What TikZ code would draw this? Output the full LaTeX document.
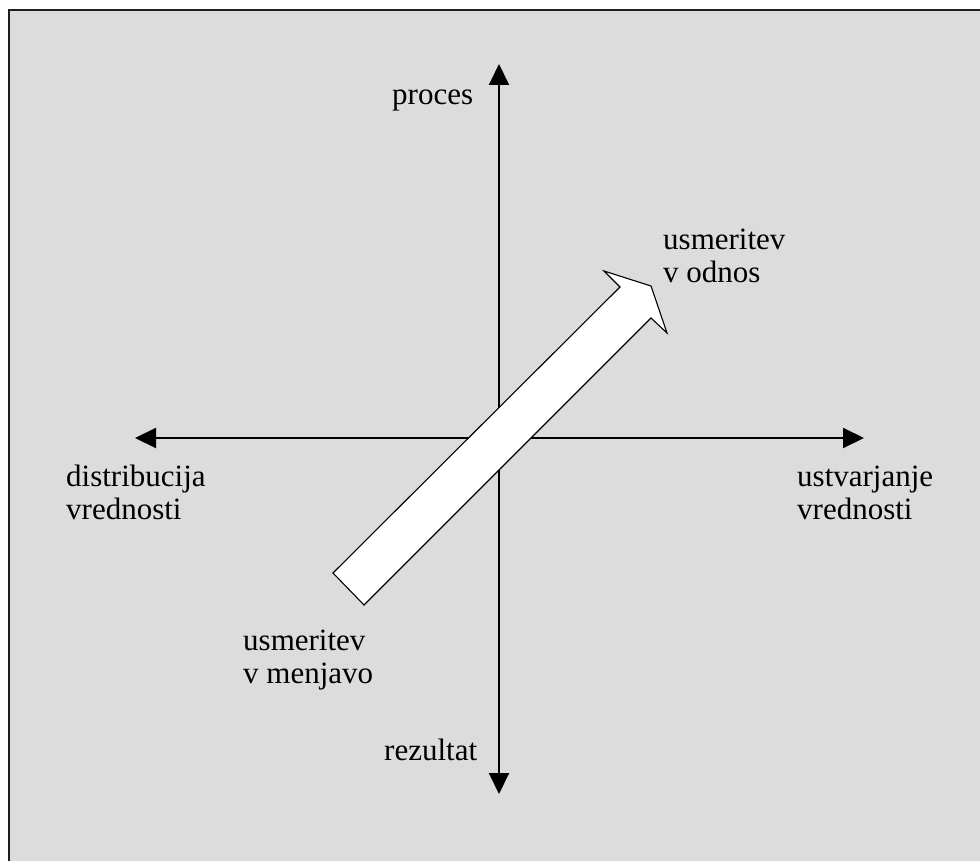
\documentclass[tikz,border=0pt]{standalone}
\usepackage{fontspec}
\setmainfont{Liberation Serif}
\usetikzlibrary{arrows.meta}
\begin{document}
\begin{tikzpicture}[x=1pt,y=-1pt,
  axis/.style={line width=2pt,-{Triangle[length=21pt,width=20pt]}},
  lbl/.style={inner sep=0pt,align=left,font=\fontsize{31}{33}\selectfont},
  fatarrow/.style={draw=black,fill=white,line width=1.1pt,line join=miter}]
\useasboundingbox (0,0) rectangle (980,861);
\fill[fill={rgb,255:red,220;green,220;blue,220}] (9,10) rectangle (980,861);
\draw[line width=2.5pt,color={rgb,255:red,30;green,30;blue,30}] (9,861) -- (9,10) -- (980,10);
% axes
\coordinate (c) at (499,438);
\coordinate (top) at (499,64);
\coordinate (bot) at (499,794);
\coordinate (lft) at (135,438);
\coordinate (rgt) at (864,438);
\draw[axis] (c) -- (top);
\draw[axis] (c) -- (bot);
\draw[axis] (c) -- (lft);
\draw[axis] (c) -- (rgt);
% fat arrow
\draw[fatarrow] (333,573) -- (620,287) -- (604,271) -- (651,286) -- (667,333) -- (651,318) -- (364,605) -- cycle;
% labels
\node[lbl,anchor=base west] (proces) at (392,105) {proces};
\node[lbl,anchor=base west] (rez) at (384,760) {rezultat};
\node[lbl,anchor=base west] (odn1) at (663,250) {usmeritev};
\node[lbl,anchor=base west] (odn2) at (663,283) {v odnos};
\node[lbl,anchor=base west] (dis1) at (66,486) {distribucija};
\node[lbl,anchor=base west] (dis2) at (66,519) {vrednosti};
\node[lbl,anchor=base west] (ust1) at (797,486) {ustvarjanje};
\node[lbl,anchor=base west] (ust2) at (797,519) {vrednosti};
\node[lbl,anchor=base west] (men1) at (243,650) {usmeritev};
\node[lbl,anchor=base west] (men2) at (243,683) {v menjavo};
\end{tikzpicture}
\end{document}
